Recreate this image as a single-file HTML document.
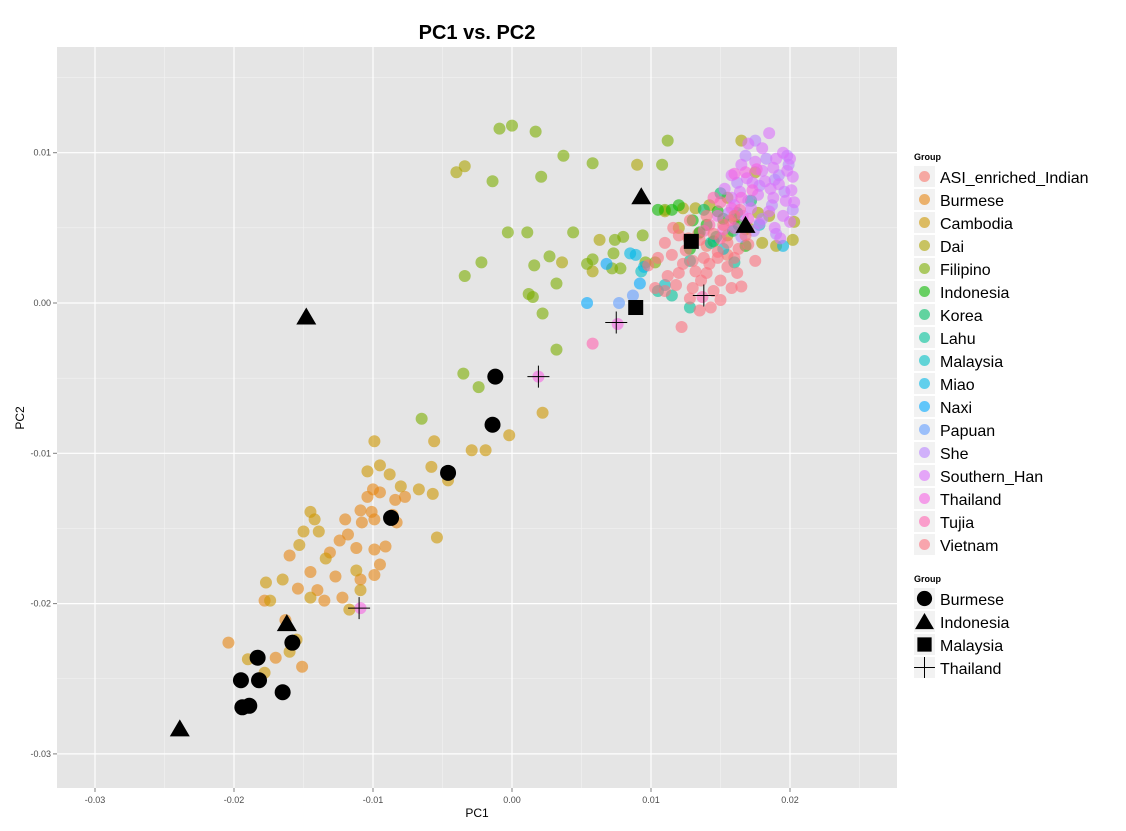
<!DOCTYPE html>
<html><head><meta charset="utf-8"><style>
body{margin:0;background:#fff;font-family:"Liberation Sans",sans-serif}
svg{display:block}
</style></head><body>
<svg id="chart" width="1126" height="831" font-family="Liberation Sans, sans-serif">
<text x="477" y="39" text-anchor="middle" font-size="20" font-weight="bold">PC1 vs. PC2</text>
<rect x="57" y="47" width="840" height="741" fill="#e5e5e5"/>
<g id="grid"></g><g id="pts"></g><g id="blk"></g><g id="axes"></g><g id="legend"></g>
<text x="477" y="817" text-anchor="middle" font-size="12">PC1</text>
<text x="24" y="418" text-anchor="middle" font-size="12" transform="rotate(-90 24 418)">PC2</text>
</svg>
<script>
const xTicks=[-0.03,-0.02,-0.01,0,0.01,0.02];
const xTickLabels=["-0.03","-0.02","-0.01","0.00","0.01","0.02"];
const yTicks=[0.01,0,-0.01,-0.02,-0.03];
const yTickLabels=["0.01","0.00","-0.01","-0.02","-0.03"];
const groups=["ASI_enriched_Indian","Burmese","Cambodia","Dai","Filipino","Indonesia","Korea","Lahu","Malaysia","Miao","Naxi","Papuan","She","Southern_Han","Thailand","Tujia","Vietnam"];
const colors=["#F8766D","#E68613","#CD9600","#ABA300","#7CAE00","#0CB702","#00BE67","#00C19A","#00BFC4","#00B8E7","#00A9FF","#619CFF","#B983FF","#DB72FB","#F564E3","#FF64B0","#FC717F"];
// values in units of 1e-3
const ptASI=[[13.4,4.6],[12.7,4.3],[15.5,3.2],[14.0,3.8]];
const ptBurmese=[[-20.4,-22.6],[-17.0,-23.6],[-15.1,-24.2],[-16.3,-21.1],[-17.8,-19.8],[-15.4,-19.0],[-14.0,-19.1],[-12.7,-18.2],[-16.0,-16.8],[-14.5,-17.9],[-13.5,-19.8],[-12.2,-19.6],[-10.9,-18.4],[-9.9,-18.1],[-9.5,-17.4],[-11.2,-16.3],[-12.4,-15.8],[-13.1,-16.6],[-12.0,-14.4],[-10.9,-13.8],[-10.1,-13.9],[-10.4,-12.9],[-10.0,-12.4],[-9.5,-12.6],[-8.4,-13.1],[-7.7,-12.9],[-8.6,-14.1],[-8.3,-14.6],[-9.9,-14.4],[-10.8,-14.6],[-11.8,-15.4],[-9.9,-16.4],[-9.1,-16.2]];
const ptCambodia=[[-13.9,-15.2],[-15.0,-15.2],[-14.5,-13.9],[-15.3,-16.1],[-16.5,-18.4],[-17.7,-18.6],[-19.0,-23.7],[-17.4,-19.8],[-17.8,-24.6],[-14.5,-19.6],[-11.7,-20.4],[-10.9,-19.1],[-11.2,-17.8],[-9.5,-10.8],[-9.9,-9.2],[-10.4,-11.2],[-8.8,-11.4],[-8.0,-12.2],[-6.7,-12.4],[-5.8,-10.9],[-5.7,-12.7],[-5.4,-15.6],[-4.6,-11.8],[-5.6,-9.2],[-2.9,-9.8],[-1.9,-9.8],[-0.2,-8.8],[2.2,-7.3],[-13.4,-17.0],[-14.2,-14.4],[-15.5,-22.4],[-16.0,-23.2]];
const ptDai=[[16.5,10.8],[17.5,8.7],[18.5,5.8],[20.3,5.4],[20.2,4.2],[19.0,3.8],[18.0,4.0],[17.0,5.0],[16.0,5.6],[15.5,7.0],[14.2,6.5],[13.2,6.3],[12.3,6.3],[11.0,6.1],[12.0,5.0],[16.8,4.9],[15.5,4.5],[17.7,6.0],[9.0,9.2],[6.3,4.2],[-3.4,9.1],[-4.0,8.7],[3.6,2.7],[5.8,2.1]];
const ptFilipino=[[-0.9,11.6],[0.0,11.8],[1.7,11.4],[-1.4,8.1],[2.1,8.4],[3.7,9.8],[5.8,9.3],[-0.3,4.7],[1.1,4.7],[4.4,4.7],[-2.2,2.7],[-3.4,1.8],[1.6,2.5],[2.7,3.1],[1.2,0.6],[1.5,0.4],[3.2,1.3],[2.2,-0.7],[3.2,-3.1],[-3.5,-4.7],[-2.4,-5.6],[-6.5,-7.7],[5.4,2.6],[5.8,2.9],[7.4,4.2],[8.0,4.4],[7.3,3.3],[7.2,2.3],[7.8,2.3],[10.8,9.2],[11.2,10.8],[11.0,6.2],[9.6,2.7],[9.4,4.5],[10.3,2.7]];
const ptIndonesia=[[11.5,6.2],[12.0,6.5],[13.5,4.7],[14.5,4.1],[15.2,5.6],[16.3,5.2],[14.8,6.1],[12.8,3.6],[16.8,3.8],[10.5,6.2],[13.0,5.5],[14.0,5.2]];
const ptKorea=[[15.0,7.3],[16.2,6.0],[14.7,4.4],[13.8,6.2],[17.2,6.8],[15.9,4.8]];
const ptLahu=[[10.5,0.8],[11.5,0.5],[12.8,-0.3],[14.3,4.0],[16.0,2.7],[12.8,2.8]];
const ptMalaysia=[[9.3,2.1],[11.0,1.2],[17.8,5.2],[15.2,3.6]];
const ptMiao=[[8.5,3.3],[8.9,3.2],[19.5,3.8],[9.5,2.4]];
const ptNaxi=[[6.8,2.6],[9.2,1.3],[5.4,0.0]];
const ptPapuan=[[7.7,0.0],[8.7,0.5]];
const ptShe=[[17.5,10.8],[19.8,9.8],[16.8,9.8],[18.3,9.6],[19.2,8.5],[16.2,8.0],[17.8,7.8],[19.6,7.4],[15.6,6.0],[17.0,6.8],[18.7,6.5],[20.2,6.2],[18.0,5.6],[19.0,4.6],[17.4,4.8],[16.5,4.4],[19.9,9.2],[18.9,8.2]];
const ptSouthernHan=[[18.5,11.3],[17.0,10.6],[18.0,10.3],[19.5,10.0],[20.0,9.6],[16.5,9.2],[17.5,9.4],[18.8,9.0],[19.8,8.8],[20.2,8.4],[15.8,8.5],[16.9,8.3],[18.2,8.1],[19.2,7.9],[20.1,7.5],[15.3,7.6],[16.4,7.4],[17.7,7.2],[18.8,7.0],[19.7,6.8],[20.3,6.7],[16.0,6.5],[17.2,6.3],[18.5,6.1],[19.5,5.8],[17.8,5.3],[18.9,5.0],[20.0,5.4],[19.3,4.3],[16.6,5.8],[18.0,8.8],[19.0,9.6],[17.3,8.0],[18.6,7.6],[15.8,7.0]];
const ptThailand=[[16.5,7.0],[15.8,6.3],[17.3,7.5],[14.8,5.8],[16.0,5.0],[17.0,5.6],[15.2,4.9],[16.8,8.7],[17.6,8.9],[16.0,8.6],[7.6,-1.4],[1.9,-4.9],[-10.9,-20.3]];
const ptTujia=[[15.0,6.7],[14.2,5.2],[15.7,5.5],[14.5,7.0],[16.4,6.2],[13.8,4.8],[15.0,4.3],[5.8,-2.7],[13.7,0.4]];
const ptVietnam=[[12.2,-1.6],[13.5,-0.5],[12.8,0.3],[13.0,1.0],[11.8,1.2],[14.5,0.8],[16.5,1.1],[15.0,1.5],[12.0,2.0],[13.2,2.1],[14.2,2.6],[15.5,2.4],[16.0,3.0],[17.5,2.8],[11.5,3.2],[12.5,3.5],[13.8,3.0],[14.8,3.4],[16.3,3.6],[17.0,3.9],[11.0,4.0],[12.0,4.5],[13.5,4.2],[14.5,4.6],[15.5,4.0],[16.8,4.5],[12.8,5.5],[14.0,5.8],[15.2,5.2],[16.0,5.8],[11.6,5.0],[10.5,3.0],[11.2,1.8],[14.0,2.0],[15.8,1.0],[13.0,2.8],[12.3,2.6],[14.8,3.0],[16.2,2.0],[13.6,1.5],[9.8,2.5],[10.3,1.0],[11.0,0.8],[15.0,0.2],[14.3,-0.3]];
const refBurmese=[[-19.5,-25.1],[-19.4,-26.9],[-18.9,-26.8],[-18.2,-25.1],[-18.3,-23.6],[-16.5,-25.9],[-15.8,-22.6],[-8.7,-14.3],[-4.6,-11.3],[-1.4,-8.1],[-1.2,-4.9]];
const refIndonesia=[[-23.9,-28.3],[-14.8,-0.9],[-16.2,-21.3],[9.3,7.1],[16.8,5.2]];
const refMalaysia=[[8.9,-0.3],[12.9,4.1]];
const refThailand=[[-11.0,-20.3],[1.9,-4.9],[7.5,-1.3],[13.8,0.5]];
const refGroups=["Burmese","Indonesia","Malaysia","Thailand"];

const NS="http://www.w3.org/2000/svg";
const X0=57,X1=897,Y0=47,Y1=788;
const sx=v=>512+v*13900;
const sy=v=>303-v*15030;
const S=1e-3;
function mk(tag,attrs,parent){const e=document.createElementNS(NS,tag);for(const k in attrs)e.setAttribute(k,attrs[k]);parent.appendChild(e);return e;}
const grid=document.getElementById('grid'),axes=document.getElementById('axes');
for(let i=0;i<xTicks.length;i++){
  const m=xTicks[i]+0.005;
  const l=mk('line',{x1:sx(m),x2:sx(m),y1:Y0,y2:Y1,stroke:'#f2f2f2','stroke-width':0.6},grid);
  
  
}
for(let i=0;i<yTicks.length;i++){
  const m=yTicks[i]+0.005;
  const l=mk('line',{x1:X0,x2:X1,y1:sy(m),y2:sy(m),stroke:'#f2f2f2','stroke-width':0.6},grid);
  
  
}
xTicks.forEach((v,i)=>{
  const l=mk('line',{x1:sx(v),x2:sx(v),y1:Y0,y2:Y1,stroke:'#fff','stroke-width':1.2},grid);
  
  
  const t=mk('line',{x1:sx(v),x2:sx(v),y1:Y1,y2:Y1+4,stroke:'#7f7f7f'},axes);
  
  
  const tx=mk('text',{x:sx(v),y:Y1+15,'text-anchor':'middle','font-size':9,fill:'#4d4d4d'},axes);
  tx.textContent=xTickLabels[i];
  
  
});
yTicks.forEach((v,i)=>{
  const l=mk('line',{x1:X0,x2:X1,y1:sy(v),y2:sy(v),stroke:'#fff','stroke-width':1.2},grid);
  
  
  const t=mk('line',{x1:X0-4,x2:X0,y1:sy(v),y2:sy(v),stroke:'#7f7f7f'},axes);
  
  
  const tx=mk('text',{x:X0-6,y:sy(v)+3,'text-anchor':'end','font-size':9,fill:'#4d4d4d'},axes);
  tx.textContent=yTickLabels[i];
  
  
});
const series=[ptASI,ptBurmese,ptCambodia,ptDai,ptFilipino,ptIndonesia,ptKorea,ptLahu,ptMalaysia,ptMiao,ptNaxi,ptPapuan,ptShe,ptSouthernHan,ptThailand,ptTujia,ptVietnam];
const pts=document.getElementById('pts');
series.forEach((arr,gi)=>{
  arr.forEach(p=>{
    const c=mk('circle',{cx:sx(p[0]*S),cy:sy(p[1]*S),r:6,fill:colors[gi],'fill-opacity':0.6},pts);
    
    
  });
});
const blk=document.getElementById('blk');
function drawShape(kind,cx,cy,parent,size){
  const s=size||1;let e;
  if(kind==='Burmese') e=mk('circle',{cx,cy,r:8*s,fill:'#000'},parent);
  else if(kind==='Indonesia') e=mk('polygon',{points:`${cx},${cy-9*s} ${cx+10*s},${cy+8*s} ${cx-10*s},${cy+8*s}`,fill:'#000'},parent);
  else if(kind==='Malaysia') e=mk('rect',{x:cx-7.5*s,y:cy-7.5*s,width:15*s,height:15*s,fill:'#000'},parent);
  else e=mk('path',{d:`M${cx-11*s},${cy}H${cx+11*s}M${cx},${cy-11*s}V${cy+11*s}`,stroke:'#000','stroke-width':1},parent);
  return e;
}
[refBurmese,refIndonesia,refMalaysia,refThailand].forEach((arr,gi)=>{
  arr.forEach(p=>{
    const e=drawShape(refGroups[gi],sx(p[0]*S),sy(p[1]*S),blk);
    
    
  });
});
const lg=document.getElementById('legend');
{const t=mk('text',{x:914,y:160,'font-size':9,'font-weight':'bold'},lg);t.textContent='Group';

}
groups.forEach((g,i)=>{
  const y=166+i*23;
  const gEl=mk('g',{},lg);
  
  
  mk('rect',{x:914,y:y,width:21,height:21,fill:'#f2f2f2'},gEl);
  mk('circle',{cx:924.5,cy:y+10.5,r:5.5,fill:colors[i],'fill-opacity':0.6},gEl);
  const t=mk('text',{x:940,y:y+17,'font-size':16},gEl);t.textContent=g;
});
{const t=mk('text',{x:914,y:582,'font-size':9,'font-weight':'bold'},lg);t.textContent='Group';

}
refGroups.forEach((g,i)=>{
  const y=588+i*23;
  const gEl=mk('g',{},lg);
  
  
  mk('rect',{x:914,y:y,width:21,height:21,fill:'#f2f2f2'},gEl);
  drawShape(g,924.5,y+10.5,gEl,0.95);
  const t=mk('text',{x:940,y:y+17,'font-size':16},gEl);t.textContent=g;
});
</script>
</body></html>
